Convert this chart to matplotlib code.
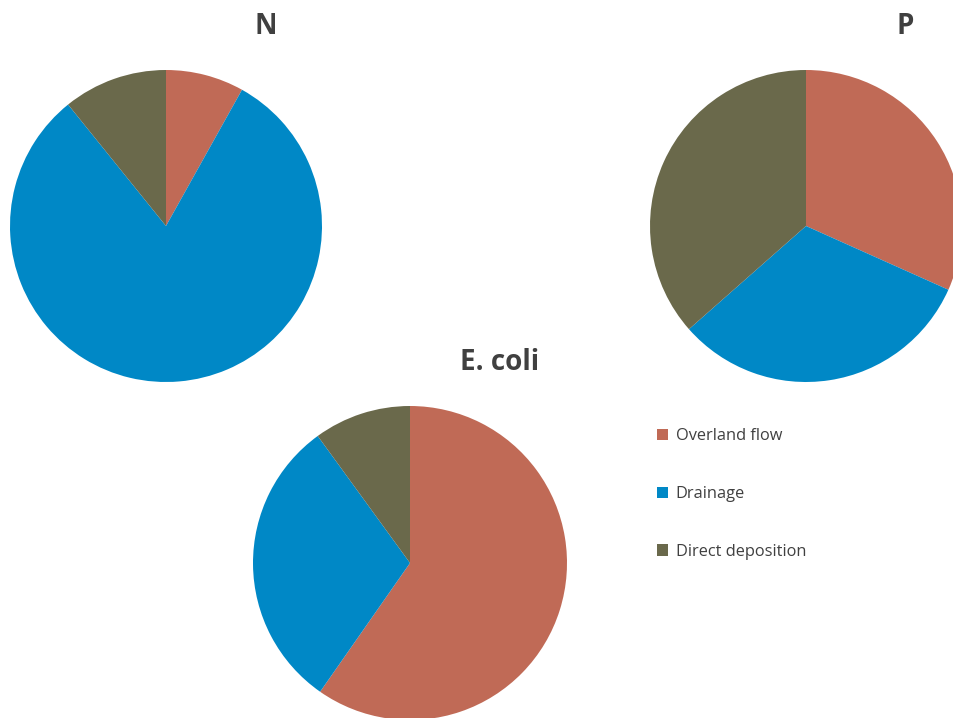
import matplotlib
matplotlib.use('Agg')
import matplotlib.pyplot as plt

plt.rcParams['font.family'] = ['Open Sans', 'DejaVu Sans']

categories = ['Overland flow', 'Drainage', 'Direct deposition']
colors = ['#C06A56', '#0088C6', '#6A694B']

n_values = [8.1, 81.1, 10.8]
p_values = [31.7, 31.8, 36.5]
ecoli_values = [59.7, 30.3, 10.0]

W, H = 954, 718
fig = plt.figure(figsize=(W / 100, H / 100), dpi=100)


def pie_axes(cx, cy, r):
    # box in pixels (top-left origin) -> figure fraction
    return fig.add_axes([(cx - r) / W, (H - cy - r) / H, 2 * r / W, 2 * r / H])


def draw_pie(ax, values):
    wedges, _ = ax.pie(values, colors=colors, startangle=90, counterclock=False,
                       radius=1.0, wedgeprops=dict(linewidth=0))
    ax.set_xlim(-1, 1)
    ax.set_ylim(-1, 1)
    ax.set_aspect('auto')
    ax.axis('off')
    return wedges


ax_n = pie_axes(166, 226, 156)
wedges = draw_pie(ax_n, n_values)
ax_p = pie_axes(806, 226, 156)
draw_pie(ax_p, p_values)
ax_e = pie_axes(410, 563, 157)
draw_pie(ax_e, ecoli_values)

title_kw = dict(fontsize=20, fontweight='bold', color='#404040', ha='center', va='center')
fig.text(266 / W, 1 - 27 / H, 'N', **title_kw)
fig.text(905 / W, 1 - 27 / H, 'P', **title_kw)
fig.text(500 / W, 1 - 362 / H, 'E. coli', **title_kw)

fig.legend(wedges, categories, loc='center left', bbox_to_anchor=(642 / W, 1 - 494 / H),
           frameon=False, fontsize=11.8, labelspacing=2.55, handlelength=0.7,
           handleheight=0.7, handletextpad=0.45, labelcolor='#404040')

fig.savefig('out.png', dpi=100)
